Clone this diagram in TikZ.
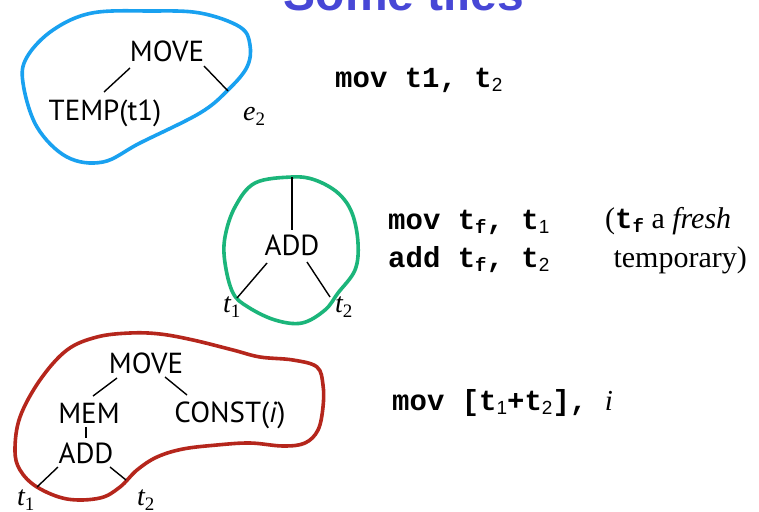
\documentclass[tikz,border=0pt]{standalone}
\usepackage{fontspec}
\setmainfont{Liberation Serif}
\setsansfont{PT Sans}
\setmonofont{Liberation Mono}
\definecolor{ttlblue}{HTML}{4747D6}
\definecolor{blobblue}{HTML}{19A1F0}
\definecolor{blobgreen}{HTML}{1BB57A}
\definecolor{blobred}{HTML}{B5261C}
\newfontfamily\subsans{Liberation Sans}
\newcommand\msubd[1]{\raisebox{-0.32ex}{\fontsize{19}{19}\selectfont\subsans\mdseries #1}}
\newcommand\msubf{\raisebox{-0.32ex}{\fontsize{19}{19}\selectfont\ttfamily\bfseries f}}
\newcommand\rsubd[1]{\raisebox{-0.4ex}{\fontsize{19}{19}\selectfont\rmfamily\upshape #1}}
\begin{document}
\begin{tikzpicture}[x=1pt,y=-1pt,
  tl/.style={font=\fontsize{29}{30}\selectfont\sffamily, inner sep=0pt, outer sep=0pt,
     text height=20pt, text depth=0pt, anchor=base},
  lbl/.style={font=\fontsize{28}{30}\selectfont\rmfamily\itshape, inner sep=0pt, anchor=base west},
  code/.style={font=\fontsize{29}{31}\selectfont\ttfamily\bfseries, inner sep=0pt, anchor=base west},
  note/.style={font=\fontsize{30}{31}\selectfont\rmfamily, inner sep=0pt},
  edge/.style={draw=black, line width=1.4pt},
  blob/.style={line width=3.6pt, line join=round}]
\clip (0,0) rectangle (759,511);
\fill[white] (0,0) rectangle (759,511);

% title (clipped at the top)
\node[font=\fontsize{48}{50}\selectfont\subsans\bfseries, text=ttlblue, inner sep=0pt, anchor=base]
  (title) at (404,11) {Some tiles};

% ---------- tile 1 (blue) ----------
\draw[blob, draw=blobblue] plot[smooth cycle, tension=0.6] coordinates {
  (92,13) (150,11) (200,13) (240,27) (250,45) (247,67) (228,90) (200,113)
  (140,143) (103,162) (67,157) (37,127) (23,83) (27,57) (53,30)};
\node[tl] (bm) at (167,62) {MOVE};
\node[tl] (bt) at (105,120) {TEMP(t1)};
\coordinate (be) at (228,91);
\node[lbl] (be2) at (243,120) {e\rsubd{2}};
\draw[edge] ([shift={(-37,6)}]bm.south) -- ([shift={(-1,-8)}]bt.north);
\draw[edge] ([shift={(37,4)}]bm.south) -- (be);
\node[code] (c1) at (335,87) {mov t1, t\msubd{2}};

% ---------- tile 2 (green) ----------
\draw[blob, draw=blobgreen] plot[smooth cycle, tension=0.6] coordinates {
  (292,177) (315,180) (338,193) (352,213) (358,243) (355,270) (338,293)
  (325,310) (302,323) (275,320) (248,307) (233,293) (225,263) (225,237)
  (235,207) (255,183)};
\coordinate (gtop) at (292,177);
\node[tl] (gadd) at (292,255) {ADD};
\coordinate (g1e) at (237,298);
\coordinate (g2e) at (330,297);
\node[lbl] (gt1) at (223,312) {t\rsubd{1}};
\node[lbl] (gt2) at (335,312) {t\rsubd{2}};
\draw[edge] (gtop) -- ([shift={(0,-5)}]gadd.north);
\draw[edge] ([shift={(-25,8)}]gadd.south) -- (g1e);
\draw[edge] ([shift={(15,7)}]gadd.south) -- (g2e);
\node[code] (c2) at (388,229) {mov t\msubf, t\msubd{1}};
\node[code] (c3) at (388,267) {add t\msubf, t\msubd{2}};
\node[note, anchor=base west] (n1) at (605,228)
  {(\textbf{\ttfamily\fontsize{29}{31}\selectfont t}\msubf{} a \textit{fresh}};
\node[note, anchor=base east] (n2) at (747,267) {temporary)};

% ---------- tile 3 (red) ----------
\draw[blob, draw=blobred] plot[smooth cycle, tension=0.6] coordinates {
  (67,350) (97,337) (130,333) (160,334) (193,340) (233,350) (260,357)
  (293,360) (317,367) (323,385) (323,407) (318,430) (305,443) (283,446)
  (250,443) (217,445) (183,449) (157,457) (137,470) (120,487) (100,498)
  (67,499) (37,487) (20,470) (15,450) (20,417) (40,380)};
\node[tl] (rm) at (146,373) {MOVE};
\node[tl] (rmem) at (89,423) {MEM};
\node[tl] (rc) at (230,422) {CONST(\textit{i})};
\node[tl] (radd) at (86,463) {ADD};
\coordinate (r1e) at (37,487);
\coordinate (r2e) at (126,480);
\node[lbl] (rt1) at (17,505) {t\rsubd{1}};
\node[lbl] (rt2) at (137,505) {t\rsubd{2}};
\draw[edge] ([shift={(-29,5)}]rm.south) -- ([shift={(4,-7)}]rmem.north);
\draw[edge] ([shift={(19,4)}]rm.south) -- ([shift={(-43,-7)}]rc.north);
\draw[edge] ([shift={(-3,4)}]rmem.south) -- ([shift={(0,-5)}]radd.north);
\draw[edge] ([shift={(-28,4)}]radd.south) -- (r1e);
\draw[edge] ([shift={(24,4)}]radd.south) -- (r2e);
\node[code] (c4) at (392,410) {mov [t\msubd{1}+t\msubd{2}], {\rmfamily\mdseries\itshape i}};
\end{tikzpicture}
\end{document}
